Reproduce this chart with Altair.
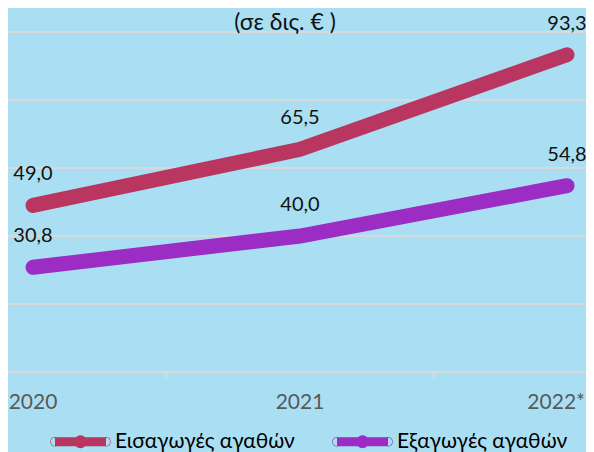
import altair as alt
import pandas as pd

# ---- data ----
years = ["2020", "2021", "2022*"]
series = ["Εισαγωγές αγαθών", "Εξαγωγές αγαθών"]
imports_vals = [49.0, 65.5, 93.3]
exports_vals = [30.8, 40.0, 54.8]
title_text = "(σε δις. € )"
grid_values = [0, 20, 40, 60, 80, 100]
colors = ["#b93660", "#9b2dc4"]

rows = []
for s, vals in zip(series, [imports_vals, exports_vals]):
    for i, (yr, v) in enumerate(zip(years, vals)):
        rows.append({"idx": i, "year": yr, "series": s, "value": v,
                     "label": f"{v:.1f}".replace(".", ",")})
df = pd.DataFrame(rows)
cats = pd.DataFrame({"idx": list(range(len(years))), "year": years})
ticks = pd.DataFrame({"idx": [i + 0.5 for i in range(len(years) - 1)]})
grid = pd.DataFrame({"value": grid_values})
title_df = pd.DataFrame({"t": [title_text]})

W, H = 578, 444
PX = 3.4          # pixels per unit on y
Y0 = 364          # pixel row of value 0
X0, STEP = 25, 267
yscale = alt.Scale(domain=[(Y0 - H) / PX, Y0 / PX], nice=False, zero=False)
xscale = alt.Scale(domain=[-X0 / STEP, (W - X0) / STEP], nice=False, zero=False)

FONT = "Lato"

gridlines = alt.Chart(grid).mark_rule(color="#d9d9d9", strokeWidth=2).encode(
    y=alt.Y("value:Q", scale=yscale, axis=None)
)

tickmarks = alt.Chart(ticks).mark_rule(color="#d9d9d9", strokeWidth=2).encode(
    x=alt.X("idx:Q", scale=xscale, axis=None),
    y=alt.value(Y0), y2=alt.value(Y0 + 6)
)

legend_path = ("M-0.85,0L0.85,0"
               "M0.067,0A0.067,0.067,0,1,1,-0.067,0A0.067,0.067,0,1,1,0.067,0Z"
               "M-0.84,0A0.01,0.01,0,1,1,-0.86,0A0.01,0.01,0,1,1,-0.84,0Z"
               "M0.86,0A0.01,0.01,0,1,1,0.84,0A0.01,0.01,0,1,1,0.86,0Z")

lines = alt.Chart(df).mark_line(strokeWidth=15, strokeCap="round").encode(
    x=alt.X("idx:Q", scale=xscale, axis=None),
    y=alt.Y("value:Q", scale=yscale, axis=None),
    color=alt.Color("series:N",
                    scale=alt.Scale(domain=series, range=colors),
                    sort=series,
                    legend=alt.Legend(
                        orient="none", legendX=38, legendY=399,
                        direction="horizontal", title=None,
                        symbolType=legend_path, symbolSize=3600,
                        symbolStrokeWidth=9, labelFont=FONT,
                        labelFontSize=21, labelColor="#000000",
                        labelOffset=0, columnPadding=23, padding=0,
                        labelLimit=0,
                    )),
    detail="series:N",
)

labels = alt.Chart(df).mark_text(font=FONT, fontSize=20, color="#111111",
                                 dy=-31, align="center", baseline="middle").encode(
    x=alt.X("idx:Q", scale=xscale, axis=None),
    y=alt.Y("value:Q", scale=yscale, axis=None),
    text="label:N",
)

last = len(years) - 1
xlabels = alt.Chart(cats).transform_filter(f"datum.idx < {last}").mark_text(
    font=FONT, fontSize=21, color="#595959", align="center", baseline="middle"
).encode(
    x=alt.X("idx:Q", scale=xscale, axis=None),
    y=alt.value(395),
    text="year:N",
)
xlabel_last = alt.Chart(cats).transform_filter(f"datum.idx == {last}").mark_text(
    font=FONT, fontSize=21, color="#595959", align="right", baseline="middle", dx=18
).encode(
    x=alt.X("idx:Q", scale=xscale, axis=None),
    y=alt.value(395),
    text="year:N",
)

title = alt.Chart(title_df).mark_text(font=FONT, fontSize=23, color="#111111",
                                      align="center", baseline="middle").encode(
    x=alt.value(277), y=alt.value(15), text="t:N"
)

chart = alt.layer(gridlines, tickmarks, lines, labels, xlabels, xlabel_last, title).properties(
    width=W, height=H, padding=0,
    autosize=alt.AutoSizeParams(type="none"),
    background="#aadff3",
).configure_view(stroke=None)

chart.save("out.html", embed_options={"renderer": "svg", "actions": False})
